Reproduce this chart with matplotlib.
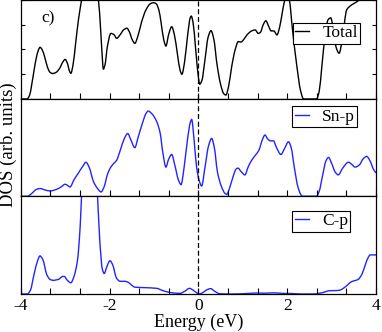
import matplotlib
matplotlib.use("Agg")
import matplotlib.pyplot as plt
import numpy as np
from matplotlib.path import Path
from matplotlib.patches import PathPatch
from matplotlib.lines import Line2D
from matplotlib.ticker import MultipleLocator, NullFormatter

plt.rcParams['font.family'] = ['Liberation Serif', 'DejaVu Serif']
plt.rcParams['axes.unicode_minus'] = False

# ---- data ----
total_e = [-4.0, -3.86, -3.80, -3.75, -3.70, -3.65, -3.60, -3.565, -3.52, -3.46, -3.40, -3.34, -3.28,
           -3.20, -3.12, -3.05, -3.00, -2.95, -2.90, -2.87, -2.82, -2.76, -2.70, -2.63, -2.58, -2.45,
           -2.32, -2.25, -2.20, -2.16, -2.14, -2.10, -2.05, -1.97, -1.90, -1.84, -1.76, -1.68, -1.61,
           -1.55, -1.49, -1.43, -1.36, -1.28, -1.18, -1.08, -1.01, -0.95, -0.89, -0.84, -0.78, -0.73,
           -0.67, -0.60, -0.54, -0.47, -0.41, -0.37, -0.31, -0.24, -0.18, -0.16, -0.12, -0.06, 0.0,
           0.03, 0.08, 0.15, 0.22, 0.285, 0.35, 0.42, 0.50, 0.57, 0.62, 0.68, 0.75, 0.83, 0.90, 0.96,
           1.02, 1.10, 1.20, 1.28, 1.35, 1.40, 1.46, 1.52, 1.58, 1.64, 1.70, 1.77, 1.83, 1.90, 1.96,
           2.00, 2.05, 2.12, 2.22, 2.30, 2.37, 2.66, 2.72, 2.78, 2.85, 2.92, 2.98, 3.04, 3.10, 3.17,
           3.24, 3.34, 3.45, 3.57, 3.68, 3.80, 4.0]
total_v = [0.0, 0.0, 0.15, 0.6, 1.15, 1.65, 1.98, 2.09, 2.0, 1.7, 1.3, 1.08, 1.03,
           1.08, 1.25, 1.5, 1.60, 1.45, 1.12, 1.04, 1.4, 2.3, 3.2, 4.0, 4.6, 5.0,
           4.6, 4.0, 2.8, 1.6, 1.2, 1.4, 2.1, 2.65, 2.6, 2.45, 2.6, 2.8, 2.86,
           2.7, 2.4, 2.25, 2.55, 3.1, 3.6, 3.85, 3.89, 3.85, 3.6, 3.1, 2.4, 2.14,
           2.6, 2.92, 2.6, 1.8, 1.15, 1.0, 1.5, 2.6, 3.3, 3.35, 3.1, 2.0, 0.9,
           0.6, 0.75, 1.6, 2.5, 2.76, 2.4, 1.4, 0.6, 0.22, 0.16, 0.5, 1.3, 2.0, 2.32, 2.3,
           2.4, 2.6, 2.75, 2.79, 2.65, 2.7, 3.0, 3.16, 2.95, 2.75, 2.75, 2.59, 2.9, 3.6, 4.1,
           4.3, 4.0, 2.8, 1.3, 0.35, 0.0, 0.0, 0.3, 1.3, 2.5, 3.2, 3.28, 2.8, 2.1, 1.85,
           2.4, 3.6, 3.8, 3.93, 4.1, 4.3, 4.4]

snp_e = [-4.0, -3.85, -3.75, -3.65, -3.565, -3.45, -3.34, -3.20, -3.08, -3.00, -2.94, -2.89, -2.80,
         -2.70, -2.60, -2.53, -2.46, -2.36, -2.27, -2.19, -2.12, -2.05, -1.99, -1.92, -1.84, -1.76,
         -1.67, -1.59, -1.52, -1.43, -1.36, -1.26, -1.18, -1.13, -1.05, -0.94, -0.86, -0.80, -0.73,
         -0.67, -0.60, -0.53, -0.45, -0.39, -0.32, -0.24, -0.18, -0.15, -0.10, -0.04, 0.02, 0.074,
         0.15, 0.23, 0.30, 0.36, 0.43, 0.52, 0.60, 0.64, 0.70, 0.78, 0.85, 0.89, 0.97, 1.05, 1.12,
         1.20, 1.28, 1.36, 1.44, 1.50, 1.56, 1.62, 1.69, 1.76, 1.86, 1.94, 2.03, 2.09, 2.16, 2.24,
         2.32, 2.36, 2.66, 2.72, 2.80, 2.87, 2.93, 3.00, 3.08, 3.15, 3.25, 3.38, 3.45, 3.53, 3.62,
         3.72, 3.79, 3.87, 3.94, 4.0]
snp_v = [0.0, 0.0, 0.03, 0.07, 0.08, 0.065, 0.055, 0.07, 0.10, 0.124, 0.11, 0.096, 0.17,
         0.24, 0.31, 0.35, 0.30, 0.15, 0.08, 0.045, 0.10, 0.22, 0.285, 0.33, 0.37, 0.47,
         0.59, 0.645, 0.58, 0.50, 0.60, 0.75, 0.85, 0.876, 0.85, 0.77, 0.65, 0.45, 0.30,
         0.38, 0.43, 0.32, 0.17, 0.12, 0.30, 0.60, 0.76, 0.79, 0.60, 0.30, 0.16, 0.106,
         0.30, 0.52, 0.595, 0.50, 0.25, 0.10, 0.03, 0.02, 0.08, 0.20, 0.28, 0.29, 0.25, 0.22, 0.30,
         0.37, 0.42, 0.47, 0.58, 0.63, 0.59, 0.57, 0.57, 0.50, 0.43, 0.49, 0.56, 0.50, 0.30, 0.10,
         0.01, 0.0, 0.0, 0.05, 0.22, 0.36, 0.40, 0.34, 0.25, 0.22, 0.29, 0.35, 0.33, 0.30, 0.32,
         0.39, 0.41, 0.36, 0.28, 0.24]

cp_e = [-4.0, -3.85, -3.78, -3.70, -3.62, -3.565, -3.50, -3.41, -3.34, -3.27, -3.15, -3.05, -3.02,
        -2.95, -2.87, -2.80, -2.72, -2.66, -2.62, -2.55, -2.45, -2.35, -2.28, -2.22, -2.16, -2.12,
        -2.06, -1.99, -1.93, -1.84, -1.76, -1.66, -1.58, -1.50, -1.43, -1.20, -0.94, -0.80, -0.72,
        -0.55, -0.41, -0.30, -0.20, -0.12, -0.03, 0.02, 0.12, 0.20, 0.28, 0.36, 0.49, 0.8, 1.1, 1.3,
        1.5, 1.7, 1.9, 2.1, 2.3, 2.6, 2.80, 2.96, 3.10, 3.19, 3.30, 3.45, 3.60, 3.68, 3.76, 3.82,
        3.87, 4.0]
cp_v = [0.0, 0.0, 0.04, 0.20, 0.34, 0.39, 0.35, 0.195, 0.15, 0.14, 0.15, 0.18, 0.18,
        0.14, 0.115, 0.18, 0.35, 0.70, 1.1, 1.6, 1.8, 1.6, 1.1, 0.55, 0.25, 0.21,
        0.28, 0.34, 0.30, 0.16, 0.13, 0.13, 0.12, 0.09, 0.07, 0.065, 0.058, 0.035, 0.024,
        0.01, 0.007, 0.03, 0.058, 0.04, 0.01, 0.0, 0.02, 0.045, 0.055, 0.03, 0.002, 0.0, 0.005, 0.01,
        0.008, 0.012, 0.006, 0.005, 0.0, 0.0, 0.015, 0.034, 0.035, 0.04, 0.07, 0.126, 0.15, 0.20,
        0.30, 0.37, 0.40, 0.40]

xticks = [-4, -2, 0, 2, 4]
xticklabels = ['-4', '-2', '0', '2', '4']


def smooth_path(x, y):
    """Smooth (monotone cubic Bezier) path through the given data points."""
    x = np.asarray(x, float)
    y = np.asarray(y, float)
    h = np.diff(x)
    d = np.diff(y) / h
    m = np.zeros_like(y)
    for i in range(1, len(x) - 1):
        if d[i - 1] * d[i] > 0:
            w1 = 2 * h[i] + h[i - 1]
            w2 = h[i] + 2 * h[i - 1]
            m[i] = (w1 + w2) / (w1 / d[i - 1] + w2 / d[i])
    m[0] = d[0]
    m[-1] = d[-1]
    verts = [(x[0], y[0])]
    codes = [Path.MOVETO]
    for i in range(len(x) - 1):
        verts += [(x[i] + h[i] / 3, y[i] + m[i] * h[i] / 3),
                  (x[i + 1] - h[i] / 3, y[i + 1] - m[i + 1] * h[i] / 3),
                  (x[i + 1], y[i + 1])]
        codes += [Path.CURVE4] * 3
    return Path(verts, codes)


W, H = 382, 332
fig = plt.figure(figsize=(W / 100, H / 100), dpi=100)

left = 20.7 / W
width = (376 - 20.7) / W
panels = [(0.0, 99.0), (99.0, 196.3), (196.3, 294.0)]  # top, bottom in px
axes = []
for (t, b) in panels:
    ax = fig.add_axes([left, 1 - b / H, width, (b - t) / H])
    axes.append(ax)

series = [(total_e, total_v, 'black', 'Total', (0, 4)),
          (snp_e, snp_v, '#2323ff', 'Sn-p', (0, 1)),
          (cp_e, cp_v, '#2323ff', 'C-p', (0, 1))]
leg_pos = [(292.7, 22.7), (292.3, 106.0), (292.3, 210.7)]

for i, (ax, (xe, yv, col, lab, yl)) in enumerate(zip(axes, series)):
    patch = PathPatch(smooth_path(xe, yv), facecolor='none', edgecolor=col, lw=1.0,
                      transform=ax.transData, clip_on=True)
    ax.add_patch(patch)
    ax.axvline(0, color='black', lw=0.9, ls=(0, (4, 2.2)))
    ax.set_xlim(-4, 4)
    ax.set_ylim(*yl)
    ax.xaxis.set_major_locator(MultipleLocator(2))
    ax.xaxis.set_minor_locator(MultipleLocator(2 / 3))
    ax.tick_params(axis='x', which='both', direction='in', length=4.0, width=0.8,
                   top=False, bottom=True, labelsize=12.5, pad=3)
    if i == 0:
        ax.yaxis.set_major_locator(MultipleLocator(1))
        ax.tick_params(axis='y', which='major', direction='in', length=3.0, width=0.8,
                       left=True, right=True, labelleft=False)
    else:
        ax.set_yticks([])
    if i < 2:
        ax.xaxis.set_major_formatter(NullFormatter())
    else:
        ax.set_xticks(xticks)
        ax.set_xticklabels(xticklabels)
    for s in ax.spines.values():
        s.set_linewidth(0.9)
    t, b = panels[i]
    lx, ly = leg_pos[i]
    bx = (lx - 20.7) / (376 - 20.7)
    by = (b - ly) / (b - t)
    handle = Line2D([], [], color=col, lw=1.0)
    leg = ax.legend([handle], [lab], loc='upper left', bbox_to_anchor=(bx, by), borderaxespad=0,
                    fontsize=12.5, handlelength=0.8, handletextpad=0.75, borderpad=0.15,
                    fancybox=False, framealpha=1, edgecolor='black')
    leg.get_frame().set_linewidth(0.8)

axes[0].text(0.059, 1 - 10.5 / 99, 'c)', transform=axes[0].transAxes, fontsize=12.5,
             va='top', ha='left')
axes[2].set_xlabel('Energy (eV)', fontsize=13, labelpad=0)
fig.text(8.5 / W, 1 - 145 / H, 'DOS (arb. units)', rotation=90, fontsize=13.5,
         va='center', ha='center')

fig.savefig('out.png', dpi=100)
